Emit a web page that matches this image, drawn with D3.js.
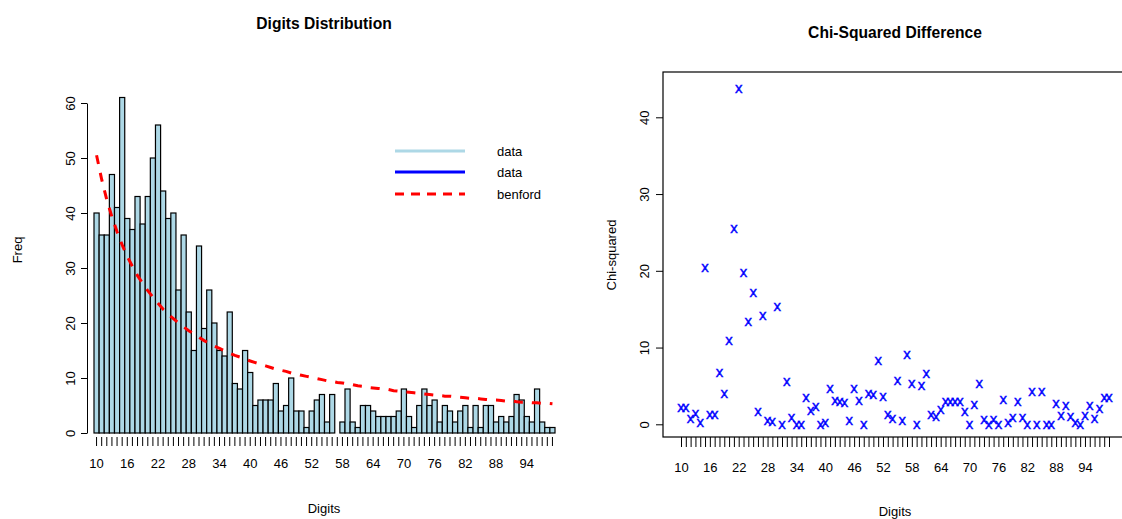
<!DOCTYPE html>
<html><head><meta charset="utf-8">
<script src="https://cdn.jsdelivr.net/npm/d3@7"></script>
<style>body{margin:0;background:#fff}text{font-family:"Liberation Sans",Arial,sans-serif}</style>
</head><body><svg id="c" width="1122" height="519"></svg>
<script>
const digits = d3.range(10,100);
const freq = [40,36,36,47,41,61,39,37,43,38,43,50,56,44,39,40,26,36,22,15,34,19,26,20,15,14,22,9,8,15,11,5,6,6,6,9,4,5,10,4,4,1,4,6,7,2,7,0,2,8,2,1,5,5,4,3,3,3,3,4,8,3,1,5,8,5,6,2,5,4,2,4,5,1,5,1,5,5,2,3,2,3,7,6,3,2,8,2,1,1];
const benford = [50.5,46.1,42.4,39.3,36.6,34.2,32.1,30.3,28.6,27.2,25.9,24.7,23.6,22.5,21.6,20.8,20.0,19.3,18.6,18.0,17.4,16.8,16.3,15.8,15.4,14.9,14.5,14.1,13.8,13.4,13.1,12.8,12.5,12.2,11.9,11.6,11.4,11.2,10.9,10.7,10.5,10.3,10.1,9.9,9.7,9.5,9.4,9.2,9.1,8.9,8.8,8.6,8.5,8.3,8.2,8.1,8.0,7.9,7.7,7.6,7.5,7.4,7.3,7.2,7.1,7.0,6.9,6.8,6.7,6.7,6.6,6.5,6.4,6.3,6.3,6.2,6.1,6.0,6.0,5.9,5.8,5.8,5.7,5.6,5.6,5.5,5.5,5.4,5.4,5.3];
const chisq = [2.2,2.2,0.8,1.5,0.3,20.5,1.4,1.4,6.8,4.1,11.0,25.6,43.8,19.9,13.5,17.3,1.7,14.2,0.6,0.4,15.4,0.1,5.6,1.0,0,0,3.6,1.8,2.4,0.1,0.3,4.7,3.2,3.0,2.9,0.6,4.7,3.2,0,4.1,3.9,8.4,3.7,1.3,0.8,5.8,0.6,9.2,5.4,0,5.1,6.7,1.4,1.1,2.0,3.1,3.1,3.0,3.0,1.7,0,2.7,5.4,0.7,0,0.7,0.1,3.3,0.3,1.0,3.0,0.9,0,4.3,0,4.3,0,0,2.8,1.2,2.5,1.1,0.3,0,1.2,2.5,0.8,2.1,3.6,3.6];
const xLabels = d3.range(10,100,6);
const yTicksL = [0,10,20,30,40,50,60];
const yTicksR = [0,10,20,30,40];

const svg = d3.select("#c");
// LEFT
const xL = d3.scaleBand().domain(digits).range([94,555]).padding(0);
const yL = d3.scaleLinear().domain([0,60]).range([433,103]);
const gL = svg.append("g");
gL.selectAll("rect").data(digits).join("rect")
  .attr("x",d=>xL(d)).attr("width",xL.bandwidth())
  .attr("y",(d,i)=>yL(freq[i])).attr("height",(d,i)=>yL(0)-yL(freq[i]))
  .attr("fill","#add8e6").attr("stroke","#000").attr("stroke-width",1.2);
gL.append("path").datum(digits)
  .attr("d",d3.line().x(d=>xL(d)+xL.bandwidth()/2).y((d,i)=>yL(benford[i])))
  .attr("fill","none").attr("stroke","red").attr("stroke-width",3).attr("stroke-dasharray","9,9");
const ayL = svg.append("g").attr("transform","translate(87,0)")
  .call(d3.axisLeft(yL).tickValues(yTicksL).tickSize(6).tickSizeOuter(0));
const axL = svg.append("g").attr("transform","translate(0,437)")
  .call(d3.axisBottom(xL).tickValues(digits).tickSize(9).tickSizeOuter(0).tickFormat(d=>xLabels.includes(d)?d:""));
axL.select(".domain").remove();
axL.selectAll("text").attr("y",22);
svg.append("text").attr("x",324).attr("y",29).attr("text-anchor","middle").attr("font-size",17).attr("font-weight","bold").attr("transform","translate(324,0) scale(0.92,1) translate(-324,0)").text("Digits Distribution");
svg.append("text").attr("x",324).attr("y",513).attr("text-anchor","middle").attr("font-size",13).text("Digits");
svg.append("text").attr("transform","translate(22,250) rotate(-90)").attr("text-anchor","middle").attr("font-size",13).text("Freq");
const leg = [{c:"#add8e6",d:null,t:"data"},{c:"blue",d:null,t:"data"},{c:"red",d:"9,7",t:"benford"}];
const ly = [151,172,194];
leg.forEach((l,i)=>{
  svg.append("line").attr("x1",395).attr("x2",465).attr("y1",ly[i]).attr("y2",ly[i]).attr("stroke",l.c).attr("stroke-width",3).attr("stroke-dasharray",l.d);
  svg.append("text").attr("x",497).attr("y",ly[i]+5).attr("font-size",13).text(l.t);
});
// RIGHT
const xR = d3.scaleLinear().domain([10,99]).range([681,1109]);
const yR = d3.scaleLinear().domain([0,40]).range([424.3,117.3]);
svg.append("rect").attr("x",663).attr("y",72).attr("width",470).attr("height",365).attr("fill","none").attr("stroke","#000").attr("stroke-width",1.2);
svg.append("g").selectAll("text").data(digits).join("text")
  .attr("x",d=>xR(d)).attr("y",(d,i)=>yR(chisq[i])+5).attr("text-anchor","middle")
  .attr("font-size",15).attr("fill","blue").attr("stroke","blue").attr("stroke-width",0.4).text("x");
const ayR = svg.append("g").attr("transform","translate(663,0)")
  .call(d3.axisLeft(yR).tickValues(yTicksR).tickSize(7).tickSizeOuter(0));
ayR.select(".domain").remove();
const axR = svg.append("g").attr("transform","translate(0,437)")
  .call(d3.axisBottom(xR).tickValues(digits).tickSize(10).tickSizeOuter(0).tickFormat(d=>xLabels.includes(d)?d:""));
axR.select(".domain").remove();
axR.selectAll("text").attr("y",26);
svg.selectAll(".tick text").attr("font-size",13).attr("fill","#000");
[ayL,ayR].forEach(a=>a.selectAll("text").attr("transform","rotate(-90)").attr("x",0).attr("y",-12).attr("dy",0).attr("text-anchor","middle"));
ayR.selectAll("text").attr("y",-14);
svg.append("text").attr("x",895).attr("y",38).attr("text-anchor","middle").attr("font-size",17).attr("font-weight","bold").attr("transform","translate(895,0) scale(0.92,1) translate(-895,0)").text("Chi-Squared Difference");
svg.append("text").attr("x",895).attr("y",516).attr("text-anchor","middle").attr("font-size",13).text("Digits");
svg.append("text").attr("transform","translate(616,255) rotate(-90)").attr("text-anchor","middle").attr("font-size",13).text("Chi-squared");
</script></body></html>
